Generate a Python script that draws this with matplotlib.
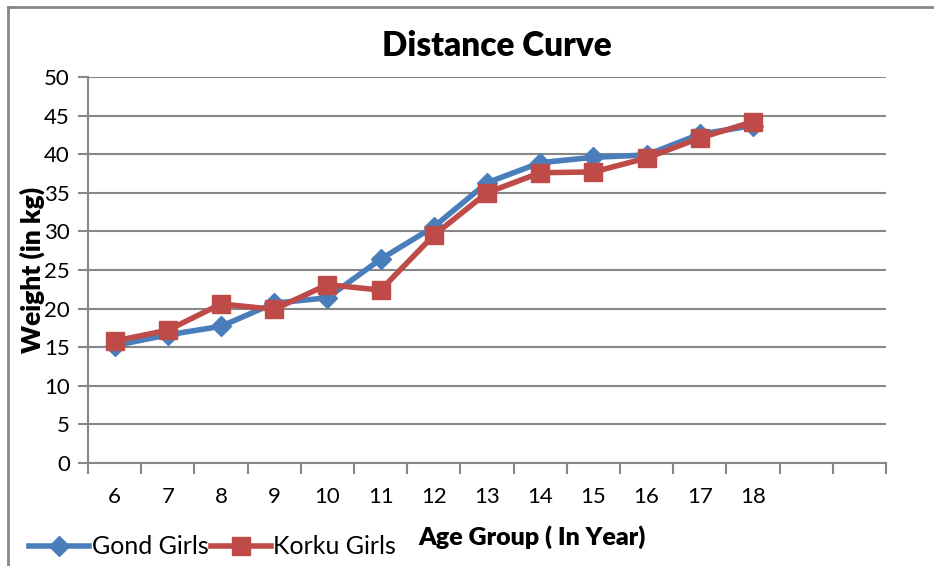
import matplotlib
matplotlib.use("Agg")
import matplotlib.pyplot as plt
from matplotlib.lines import Line2D

plt.rcParams['font.family'] = ['Lato', 'DejaVu Sans']

# age groups (two empty category slots at the end, as in the original sheet)
ages = ['6', '7', '8', '9', '10', '11', '12', '13', '14', '15', '16', '17', '18']
n_slots = 15
gond = [15.2, 16.6, 17.7, 20.7, 21.4, 26.4, 30.6, 36.3, 38.9, 39.6, 39.9, 42.6, 43.7]
korku = [15.8, 17.2, 20.6, 19.9, 23.1, 22.4, 29.5, 35.0, 37.6, 37.7, 39.5, 42.1, 44.2]

blue = '#4A7EBB'
red = '#BE4B48'
grey = '#878787'

fig = plt.figure(figsize=(9.34, 5.66), dpi=100)
ax = fig.add_axes([88/934, 1-463/566, (886-88)/934, (463-77)/566])

x = list(range(len(ages)))
ax.plot(x, gond, color=blue, lw=4, marker='D', ms=10, mec=blue, mfc=blue,
        label='Gond Girls', zorder=3)
ax.plot(x, korku, color=red, lw=4, marker='s', ms=13, mec=red, mfc=red,
        label='Korku Girls', zorder=4)

ax.set_xlim(-0.5, n_slots - 0.5)
ax.set_ylim(0, 50)
ax.set_yticks(range(0, 51, 5))
ax.yaxis.grid(True, color=grey, lw=1.5)
ax.set_axisbelow(True)

# tick marks at category boundaries, labels at centres
ax.set_xticks([i - 0.5 for i in range(n_slots + 1)])
ax.set_xticklabels([])
ax.set_xticks(x, minor=True)
ax.set_xticklabels(ages, minor=True)
ax.tick_params(axis='x', which='major', length=8, width=1.5, color=grey)
ax.tick_params(axis='x', which='minor', length=0, pad=17, labelsize=16)
ax.tick_params(axis='y', length=7, width=1.5, color=grey, labelsize=16, pad=6)

for s in ['top', 'right']:
    ax.spines[s].set_visible(False)
for s in ['left', 'bottom']:
    ax.spines[s].set_color(grey)
    ax.spines[s].set_linewidth(1.5)

fig.text(497/934, 1-46/566, 'Distance Curve', ha='center', va='center',
         fontsize=24, fontweight='heavy')
fig.text(32/934, 1-270/566, 'Weight (in kg)', ha='center', va='center',
         rotation=90, fontsize=19, fontweight='heavy')
fig.text(532/934, 1-537/566, 'Age Group ( In Year)', ha='center', va='center',
         fontsize=18, fontweight='heavy')

handles = [Line2D([], [], color=blue, lw=4, marker='D', ms=10),
           Line2D([], [], color=red, lw=4, marker='s', ms=13)]
fig.legend(handles, ['Gond Girls', 'Korku Girls'], loc='center left',
           bbox_to_anchor=(29/934, 1-547/566), ncol=2, frameon=False,
           fontsize=18, handlelength=2.4, handletextpad=0.1,
           columnspacing=0.1, borderaxespad=0, borderpad=0)

# outer chart border (top and left visible)
fig.add_artist(Line2D([8/934, 8/934], [0, 1-7/566], color=grey, lw=2,
                      transform=fig.transFigure))
fig.add_artist(Line2D([8/934, 1], [1-7/566, 1-7/566], color=grey, lw=2,
                      transform=fig.transFigure))

fig.savefig('out.png', dpi=100)
